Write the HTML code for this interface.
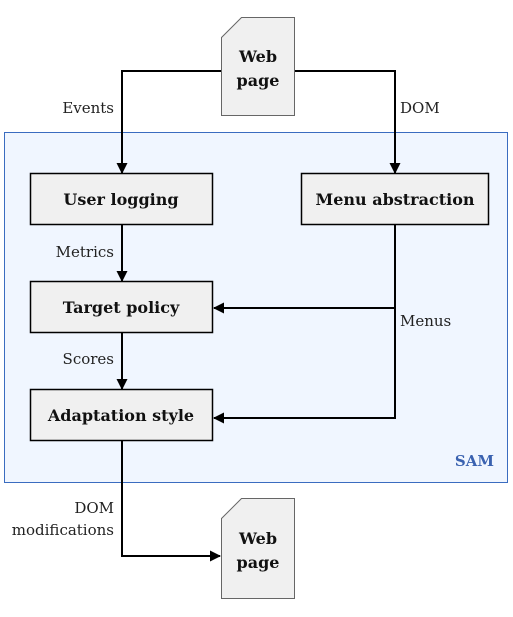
<!DOCTYPE html>
<html><head><style>
html,body{margin:0;padding:0;background:#fff;}
svg{display:block;}
text{font-family:"DejaVu Serif","Liberation Serif",serif;}
.b{font-weight:bold;font-size:16px;fill:#111;}
.l{font-size:15px;fill:#222;}
</style></head><body>
<svg width="513" height="617" viewBox="0 0 513 617">
<defs><marker id="a" markerWidth="11" markerHeight="11" refX="10" refY="5.5" orient="auto" markerUnits="userSpaceOnUse"><path d="M0,0 L11,5.5 L0,11 z" fill="#000"/></marker></defs>
<rect x="4.5" y="132.5" width="503" height="350" fill="#f0f6ff" stroke="#3a6cc0" stroke-width="1"/>
<text x="494" y="466" text-anchor="end" style="font-weight:bold;font-size:15px;fill:#3a62b0">SAM</text>
<g stroke="#000" stroke-width="2" fill="none">
<polyline points="221,71 122,71 122,173" marker-end="url(#a)"/>
<polyline points="295,71 395,71 395,173" marker-end="url(#a)"/>
<line x1="122" y1="225" x2="122" y2="281" marker-end="url(#a)"/>
<line x1="122" y1="333" x2="122" y2="389" marker-end="url(#a)"/>
<polyline points="395,225 395,418 214,418" marker-end="url(#a)"/>
<line x1="395" y1="308" x2="214" y2="308" marker-end="url(#a)"/>
<polyline points="122,441 122,556 220,556" marker-end="url(#a)"/>
</g>
<g fill="#f0f0f0" stroke="#000" stroke-width="1.5">
<rect x="30.5" y="173.5" width="182" height="51"/>
<rect x="301.5" y="173.5" width="187" height="51"/>
<rect x="30.5" y="281.5" width="182" height="51"/>
<rect x="30.5" y="389.5" width="182" height="51"/>
</g>
<g fill="#f0f0f0" stroke="#666" stroke-width="1">
<path d="M241.5,17.5 L294.5,17.5 L294.5,115.5 L221.5,115.5 L221.5,37.5 Z"/>
<path d="M241.5,498.5 L294.5,498.5 L294.5,598.5 L221.5,598.5 L221.5,518.5 Z"/>
</g>
<text class="b" x="258" y="62" text-anchor="middle">Web</text>
<text class="b" x="258" y="86" text-anchor="middle">page</text>
<text class="b" x="258" y="544" text-anchor="middle">Web</text>
<text class="b" x="258" y="568" text-anchor="middle">page</text>
<text class="b" x="121" y="205" text-anchor="middle">User logging</text>
<text class="b" x="395" y="205" text-anchor="middle">Menu abstraction</text>
<text class="b" x="121" y="313" text-anchor="middle">Target policy</text>
<text class="b" x="121" y="421" text-anchor="middle">Adaptation style</text>
<text class="l" x="114" y="113" text-anchor="end">Events</text>
<text class="l" x="400" y="113">DOM</text>
<text class="l" x="114" y="257" text-anchor="end">Metrics</text>
<text class="l" x="114" y="364" text-anchor="end">Scores</text>
<text class="l" x="400" y="326">Menus</text>
<text class="l" x="114" y="513" text-anchor="end">DOM</text>
<text class="l" x="114" y="535" text-anchor="end">modifications</text>
</svg>
</body></html>
